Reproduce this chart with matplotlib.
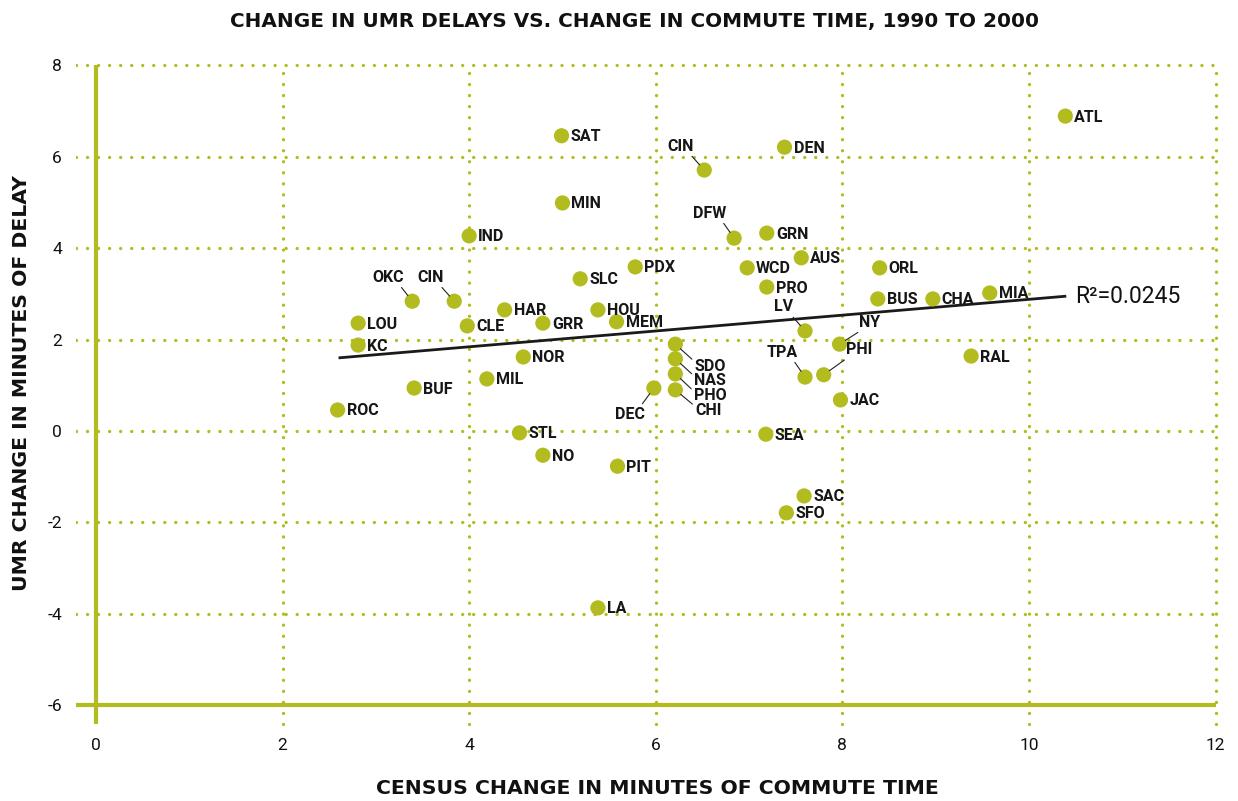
import matplotlib
matplotlib.use("Agg")
import matplotlib.pyplot as plt

# ---------------- data ----------------
cities = ["ATL", "SAT", "CIN", "DEN", "MIN", "DFW", "GRN", "IND", "OKC", "CIN",
          "LOU", "KC", "CLE", "HAR", "GRR", "HOU", "MEM", "SLC", "PDX", "NOR",
          "MIL", "BUF", "ROC", "STL", "NO", "PIT", "DEC", "SDO", "NAS", "PHO",
          "CHI", "LV", "NY", "TPA", "PHI", "JAC", "SEA", "SAC", "SFO", "LA",
          "WCD", "AUS", "PRO", "ORL", "BUS", "CHA", "MIA", "RAL"]
commute_change = [10.39, 4.99, 6.52, 7.38, 5.00, 6.84, 7.19, 4.00, 3.39, 3.84,
                  2.81, 2.81, 3.98, 4.38, 4.79, 5.38, 5.58, 5.19, 5.78, 4.58,
                  4.19, 3.41, 2.59, 4.54, 4.79, 5.59, 5.98, 6.21, 6.21, 6.21,
                  6.21, 7.60, 7.97, 7.60, 7.80, 7.98, 7.18, 7.59, 7.40, 5.38,
                  6.98, 7.56, 7.19, 8.40, 8.38, 8.97, 9.58, 9.38]
delay_change = [6.89, 6.46, 5.71, 6.21, 4.99, 4.22, 4.33, 4.27, 2.84, 2.84,
                2.36, 1.88, 2.30, 2.65, 2.36, 2.65, 2.39, 3.33, 3.59, 1.62,
                1.14, 0.94, 0.46, -0.04, -0.53, -0.77, 0.94, 1.90, 1.58, 1.25,
                0.90, 2.19, 1.90, 1.18, 1.23, 0.68, -0.07, -1.42, -1.79, -3.87,
                3.57, 3.79, 3.15, 3.57, 2.89, 2.89, 3.02, 1.64]
trend_x = [2.6, 10.4]
trend_y = [1.60, 2.95]
r_squared = 0.0245
x_ticks = [0, 2, 4, 6, 8, 10, 12]
y_ticks = [-6, -4, -2, 0, 2, 4, 6, 8]

title = "CHANGE IN UMR DELAYS VS. CHANGE IN COMMUTE TIME, 1990 TO 2000"
xlabel = "CENSUS CHANGE IN MINUTES OF COMMUTE TIME"
ylabel = "UMR CHANGE IN MINUTES OF DELAY"

# ---------------- style ----------------
OLIVE = "#b3bc1f"
FONT = ["Roboto", "DejaVu Sans"]
HEAD_FONT = ["DejaVu Sans"]
plt.rcParams["font.family"] = FONT

# label offsets (pixels) and leader-line anchor for labels placed off to the side
leader = {
    2: (-24, 24, (0.85, 0.0)),   # CIN top
    5: (-24, 25, (0.85, 0.0)),   # DFW
    8: (-24, 24, (0.85, 0.0)),   # OKC
    9: (-24, 24, (0.85, 0.0)),   # CIN left
    26: (-24, -26, (0.85, 1.0)), # DEC
    27: (35, -22, (0.0, 0.8)),   # SDO
    28: (35, -22, (0.0, 0.8)),   # NAS
    29: (35, -22, (0.0, 0.8)),   # PHO
    30: (33, -21, (0.0, 0.8)),   # CHI
    31: (-21, 24, (0.85, 0.0)),  # LV
    32: (30, 22, (0.15, 0.0)),   # NY
    33: (-23, 25, (0.85, 0.0)),  # TPA
    34: (35, 25, (0.1, 0.0)),    # PHI
}

W, H = 1238, 801
fig = plt.figure(figsize=(W / 100, H / 100), dpi=100)
xmin, xmax = -0.214, 12.05
ymin, ymax = -6.45, 8.1
ax = fig.add_axes([76 / W, (H - 725.8) / H, (1220.2 - 76) / W, (725.8 - 60.8) / H])
ax.set_xlim(xmin, xmax)
ax.set_ylim(ymin, ymax)
for s in ax.spines.values():
    s.set_visible(False)

dot_style = dict(color=OLIVE, lw=2.4, linestyle=(0, (0.01, 3.3)),
                 dash_capstyle="round", solid_capstyle="round", zorder=1)
# horizontal gridlines
for yv in y_ticks:
    if yv == -6:
        ax.plot([xmin, 12.0], [yv, yv], color=OLIVE, lw=3.0, zorder=1.5,
                solid_capstyle="butt")
    else:
        ax.plot([xmin, 12.0], [yv, yv], **dot_style)
# vertical gridlines
for xv in x_ticks:
    if xv == 0:
        ax.plot([xv, xv], [ymin + 0.04, 8.0], color=OLIVE, lw=3.0, zorder=1.5,
                solid_capstyle="butt")
    else:
        ax.plot([xv, xv], [ymin + 0.04, 8.0], **dot_style)

# trend line
ax.plot(trend_x, trend_y, color="#1a1a1a", lw=2.0, zorder=2, solid_capstyle="butt")
ax.annotate(f"R\u00b2={r_squared}", xy=(trend_x[1], trend_y[1]), xytext=(9, 0),
            textcoords="offset pixels", ha="left", va="center", fontsize=16.5,
            color="#111111")

# points
ax.scatter(commute_change, delay_change, s=120, color=OLIVE, zorder=3,
           edgecolors="none")

lab_kw = dict(fontsize=11.5, fontweight="bold", color="#161616", zorder=4)
for i, (c, x, y) in enumerate(zip(cities, commute_change, delay_change)):
    if i in leader:
        dx, dy, rp = leader[i]
        ax.annotate(c, xy=(x, y), xytext=(dx, dy), textcoords="offset pixels",
                    ha="center", va="center",
                    arrowprops=dict(arrowstyle="-", color="#222222", lw=0.8,
                                    shrinkA=0, shrinkB=5, relpos=rp), **lab_kw)
    else:
        ax.annotate(c, xy=(x, y), xytext=(9, -1), textcoords="offset pixels",
                    ha="left", va="center", **lab_kw)

ax.set_xticks(x_ticks)
ax.set_yticks(y_ticks)
ax.set_xticklabels([str(v) for v in x_ticks], fontsize=12.5)
ax.set_yticklabels([str(v) for v in y_ticks], fontsize=12.5)
ax.tick_params(length=0, pad=9, colors="#111111")
ax.tick_params(axis="y", pad=10)

fig.text(635 / W, 1 - 21 / H, title, ha="center", va="center", fontsize=14.4,
         fontweight="bold", color="#111111", family=HEAD_FONT)
fig.text(657 / W, 1 - 789 / H, xlabel, ha="center", va="center", fontsize=14.7,
         fontweight="bold", color="#111111", family=HEAD_FONT)
fig.text(22 / W, 1 - 383 / H, ylabel, ha="center", va="center", rotation=90,
         fontsize=14.7, fontweight="bold", color="#111111", family=HEAD_FONT)

fig.savefig("out.png", dpi=100)
